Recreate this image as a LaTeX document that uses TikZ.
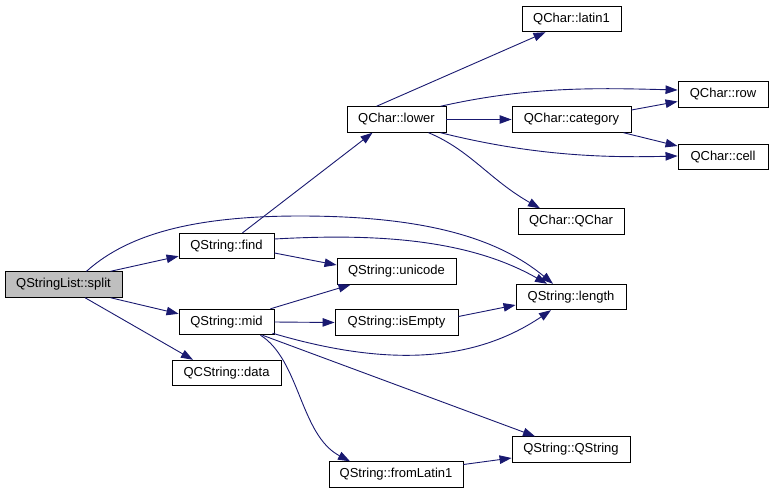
\documentclass[tikz,border=0pt]{standalone}
\usepackage{fontspec}
\setmainfont{Liberation Sans}
\usetikzlibrary{arrows.meta}
\definecolor{edgecol}{RGB}{25,25,112}
\definecolor{rootfill}{RGB}{191,191,191}
\begin{document}
\begin{tikzpicture}[x=1pt,y=-1pt,
  fn/.style={draw=black,line width=0.9pt,fill=white,inner sep=0pt,minimum height=25.5pt,font=\fontsize{13}{15}\selectfont},
  root/.style={fn,fill=rootfill},
  call/.style={draw=edgecol,line width=0.9pt,-{Triangle[length=12pt,width=8.5pt]},color=edgecol}]
\useasboundingbox (0,0) rectangle (773,493);
\node[root,minimum width=117pt] (split) at (63.5,284.5) {QStringList::split};
\node[fn,minimum width=95pt] (find) at (226.5,246) {QString::find};
\node[fn,minimum width=95pt] (mid) at (226.5,322) {QString::mid};
\node[fn,minimum width=109pt] (data) at (226.5,373) {QCString::data};
\node[fn,minimum width=99pt] (lower) at (396.5,119.5) {QChar::lower};
\node[fn,minimum width=99pt] (latin1) at (571.5,19) {QChar::latin1};
\node[fn,minimum width=90pt] (row) at (723,94.5) {QChar::row};
\node[fn,minimum width=119pt] (category) at (571.5,119.5) {QChar::category};
\node[fn,minimum width=90pt] (cell) at (723,157) {QChar::cell};
\node[fn,minimum width=106pt] (qchar) at (571,221.5) {QChar::QChar};
\node[fn,minimum width=119pt] (unicode) at (396.5,271.5) {QString::unicode};
\node[fn,minimum width=110pt] (length) at (571,297) {QString::length};
\node[fn,minimum width=123pt] (isempty) at (396.5,322.5) {QString::isEmpty};
\node[fn,minimum width=118pt] (qstring) at (571,449.5) {QString::QString};
\node[fn,minimum width=134pt] (fromlatin) at (396,474.5) {QString::fromLatin1};

\draw[call] ([xshift=-12pt]split.north east) -- ([yshift=3pt]find.south west);
\draw[call] ([xshift=-12pt]split.south east) -- ([yshift=-5pt]mid.north west);
\draw[call] ([xshift=21.5pt]split.south) -- ([xshift=-33.5pt]data.north);
\draw[call] ([xshift=23pt]split.north) .. controls (130,232) and (200,216) .. (300,216)
  .. controls (430,216) and (500,240) .. ([xshift=-18pt]length.north);
\draw[call] ([xshift=16pt]find.north) -- ([xshift=-24pt]lower.south);
\draw[call] ([yshift=7pt]find.east) .. controls (380,233) and (470,240) .. ([xshift=-24pt]length.north);
\draw[call] ([yshift=-7pt]find.east) -- ([yshift=6.5pt]unicode.west);
\draw[call] ([xshift=-4pt]mid.north east) -- ([xshift=-46pt]unicode.south);
\draw[call] (mid.east) -- (isempty.west);
\draw[call] ([xshift=-2pt,yshift=2pt]mid.south east) .. controls (380,365) and (470,365) .. ([xshift=-20pt]length.south);
\draw[call] ([xshift=-12pt]mid.south east) -- ([xshift=-36pt]qstring.north);
\draw[call] ([xshift=-14pt]mid.south east) .. controls (300,360) and (300,435) .. ([xshift=-46pt]fromlatin.north);
\draw[call] ([yshift=6pt]isempty.east) -- ([yshift=-8pt]length.west);
\draw[call] ([yshift=10pt]fromlatin.east) -- ([yshift=-8.5pt]qstring.west);
\draw[call] ([xshift=-20pt]lower.north) -- ([xshift=-26pt]latin1.south);
\draw[call] ([xshift=-6pt]lower.north east) .. controls (530,86) and (600,88) .. ([yshift=4.5pt]row.west);
\draw[call] (lower.east) -- (category.west);
\draw[call] ([xshift=-6pt]lower.south east) .. controls (530,155) and (600,158) .. ([yshift=1pt]cell.west);
\draw[call] ([xshift=32pt]lower.south) .. controls (470,150) and (490,180) .. ([xshift=-31pt]qchar.north);
\draw[call] ([yshift=9.5pt]category.east) -- ([yshift=-7pt]row.west);
\draw[call] ([xshift=-8pt]category.south east) -- ([yshift=11pt]cell.west);
\end{tikzpicture}
\end{document}
